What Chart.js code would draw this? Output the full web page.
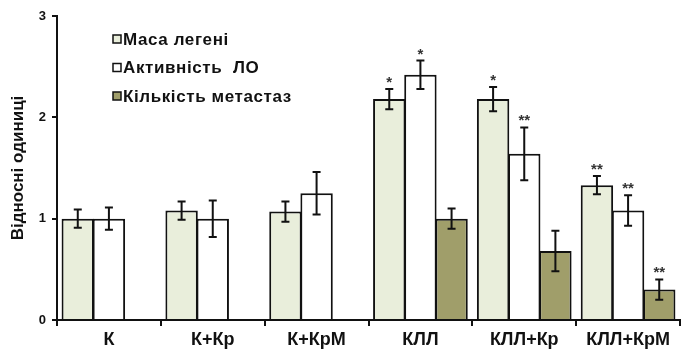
<!DOCTYPE html>
<html>
<head>
<meta charset="utf-8">
<script src="https://cdn.jsdelivr.net/npm/chart.js@4.4.0/dist/chart.umd.min.js"></script>
<style>
  html, body { margin: 0; padding: 0; background: #fff; }
  #wrap { width: 686px; height: 356px; }
</style>
</head>
<body>
<div id="wrap"><canvas id="chart" width="686" height="356"></canvas></div>
<script>
const groups = ['К', 'К+Кр', 'К+КрМ', 'КЛЛ', 'КЛЛ+Кр', 'КЛЛ+КрМ'];
const seriesNames = ['Маса легені', 'Активність  ЛО', 'Кількість метастаз'];

const lungMass = [1.0, 1.08, 1.07, 2.18, 2.18, 1.33];
const loActivity = [1.0, 1.0, 1.25, 2.42, 1.64, 1.08];
const metastases = [null, null, null, 1.0, 0.68, 0.30];

const lungMassErr = [0.09, 0.09, 0.10, 0.10, 0.12, 0.09];
const loActivityErr = [0.11, 0.18, 0.21, 0.14, 0.26, 0.15];
const metastasesErr = [null, null, null, 0.10, 0.20, 0.10];

const lungMassSig = ['', '', '', '*', '*', '**'];
const loActivitySig = ['', '', '', '*', '**', '**'];
const metastasesSig = ['', '', '', '', '', '**'];

const fills = ['#e9eedb', '#ffffff', '#a09e6a'];
const FONT = '"Liberation Sans", Arial, sans-serif';

// error bars + asterisks
const errorBars = {
  id: 'errorBars',
  afterDatasetsDraw(chart) {
    const ctx = chart.ctx;
    const y = chart.scales.y;
    chart.data.datasets.forEach((ds, i) => {
      const meta = chart.getDatasetMeta(i);
      meta.data.forEach((bar, j) => {
        const v = ds.data[j];
        const e = ds.err[j];
        if (v == null || e == null) return;
        const top = y.getPixelForValue(v + e);
        const bot = y.getPixelForValue(v - e);
        ctx.save();
        ctx.strokeStyle = '#111';
        ctx.lineWidth = 2;
        ctx.beginPath();
        ctx.moveTo(bar.x, top); ctx.lineTo(bar.x, bot);
        ctx.moveTo(bar.x - 4, top); ctx.lineTo(bar.x + 4, top);
        ctx.moveTo(bar.x - 4, bot); ctx.lineTo(bar.x + 4, bot);
        ctx.stroke();
        if (ds.sig[j]) {
          ctx.fillStyle = '#333';
          ctx.font = 'bold 15px ' + FONT;
          ctx.textAlign = 'center';
          ctx.textBaseline = 'alphabetic';
          ctx.fillText(ds.sig[j], bar.x, top - 2);
        }
        ctx.restore();
      });
    });
  }
};

// vertical legend inside plot area
const boxLegend = {
  id: 'boxLegend',
  afterDraw(chart) {
    const ctx = chart.ctx;
    ctx.save();
    ctx.font = 'bold 17px ' + FONT;
    ctx.letterSpacing = '0.6px';
    ctx.textBaseline = 'middle';
    seriesNames.forEach((name, i) => {
      const cy = 39 + i * 28.5;
      ctx.fillStyle = fills[i];
      ctx.fillRect(113, cy - 4, 8, 8);
      ctx.strokeStyle = '#111';
      ctx.lineWidth = 1.5;
      ctx.strokeRect(113, cy - 4, 8, 8);
      ctx.fillStyle = '#111';
      ctx.fillText(name, 123, cy + 1);
    });
    ctx.restore();
  }
};

const series = [lungMass, loActivity, metastases];
const errs = [lungMassErr, loActivityErr, metastasesErr];
const sigs = [lungMassSig, loActivitySig, metastasesSig];

new Chart(document.getElementById('chart'), {
  type: 'bar',
  data: {
    labels: groups,
    datasets: series.map((d, i) => ({
      label: seriesNames[i],
      data: d,
      err: errs[i],
      sig: sigs[i],
      backgroundColor: fills[i],
      borderColor: '#111',
      borderWidth: 2,
      borderSkipped: 'bottom',
      barPercentage: 1.04,
      categoryPercentage: 0.9
    }))
  },
  options: {
    responsive: false,
    animation: false,
    layout: { padding: { top: 16, right: 6, left: 0, bottom: 0 } },
    plugins: {
      legend: { display: false },
      tooltip: { enabled: false }
    },
    scales: {
      x: {
        grid: { drawOnChartArea: false, drawTicks: true, tickLength: 6, color: '#111', lineWidth: 2, offset: true },
        border: { display: true, color: '#111', width: 2 },
        ticks: {
          color: '#111',
          font: { family: FONT, size: 18, weight: 'bold' },
          padding: 3
        },
        afterFit(scale) { scale.height = 36; }
      },
      y: {
        min: 0,
        max: 3,
        ticks: {
          stepSize: 1,
          color: '#111',
          font: { family: FONT, size: 13, weight: 'bold' },
          padding: 6
        },
        grid: { drawOnChartArea: false, drawTicks: true, tickLength: 5, color: '#111', lineWidth: 2 },
        border: { display: true, color: '#111', width: 2 },
        title: {
          display: true,
          text: 'Відносні одиниці',
          color: '#111',
          font: { family: FONT, size: 17, weight: 'bold' },
          padding: { top: 8, bottom: 4 }
        },
        afterFit(scale) { scale.width = 57; }
      }
    }
  },
  plugins: [errorBars, boxLegend]
});
</script>
</body>
</html>
